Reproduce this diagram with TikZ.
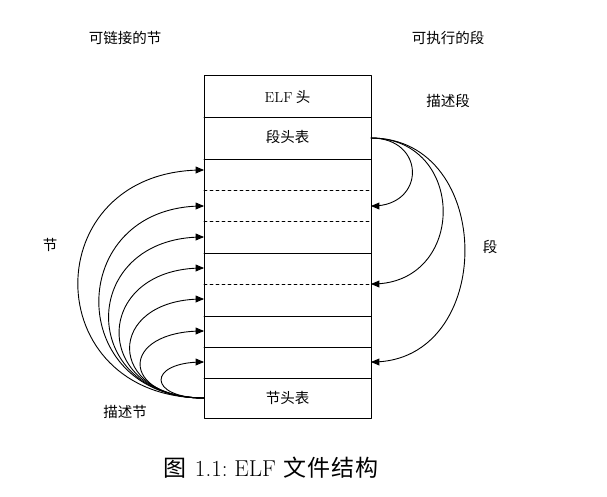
\documentclass[tikz,border=0pt]{standalone}
\usepackage{fontspec}
\newfontfamily\cjk{Noto Sans CJK SC}
\usetikzlibrary{arrows}

\begin{document}
\begin{tikzpicture}[line cap=round,line join=round,>=triangle 45,x=1pt,y=-1pt,line width=0.9pt,
  lbl/.style={font=\fontsize{14.5}{17}\selectfont\cjk},
  captext/.style={font=\fontsize{23}{26}\selectfont}]
\useasboundingbox (0,0) rectangle (607,496);

% file layout
\draw (204,75) rectangle (371,418);
\foreach \y in {117,159,253,316,347,378}
  \draw (204,\y)-- (371,\y);
\foreach \y in {190,221,284}
  \draw[dashed] (204,\y)-- (371,\y);

\node[lbl] (elf) at (287.5,97) {{\rmfamily ELF} 头};
\node[lbl] (phdr) at (287.5,137) {段头表};
\node[lbl] (shdr) at (287.5,398) {节头表};

\coordinate (ps) at (371,138);
\coordinate (ss) at (204,398);
\foreach \i/\y in {1/170,2/206,3/237,4/268,5/299,6/331,7/362}
  \coordinate (l\i) at (204,\y);
\foreach \i/\y in {1/206,2/284,3/362}
  \coordinate (r\i) at (371,\y);

% sections
\foreach \i/\d in {1/168,2/140,3/127,4/113,5/99,6/85,7/57}
  \draw[->] (ss) .. controls +(-\d,0) and +(-\d,0) .. (l\i);
% segments
\foreach \i/\d in {1/55,2/96,3/125}
  \draw[->] (ps) .. controls +(\d,0) and +(\d,0) .. (r\i);

\node[lbl] (link) at (125,38) {可链接的节};
\node[lbl] (exec) at (448,38) {可执行的段};
\node[lbl] (dseg) at (448,101) {描述段};
\node[lbl] (sec) at (50,245) {节};
\node[lbl] (seg) at (490,247) {段};
\node[lbl] (dsec) at (125,412) {描述节};
\node[captext] (caption) at (271,468) {{\cjk 图}\hspace{2pt} 1.1:\ ELF\hspace{1pt} {\cjk 文\hspace{1pt}件\hspace{1pt}结\hspace{1pt}构}};
\end{tikzpicture}
\end{document}
